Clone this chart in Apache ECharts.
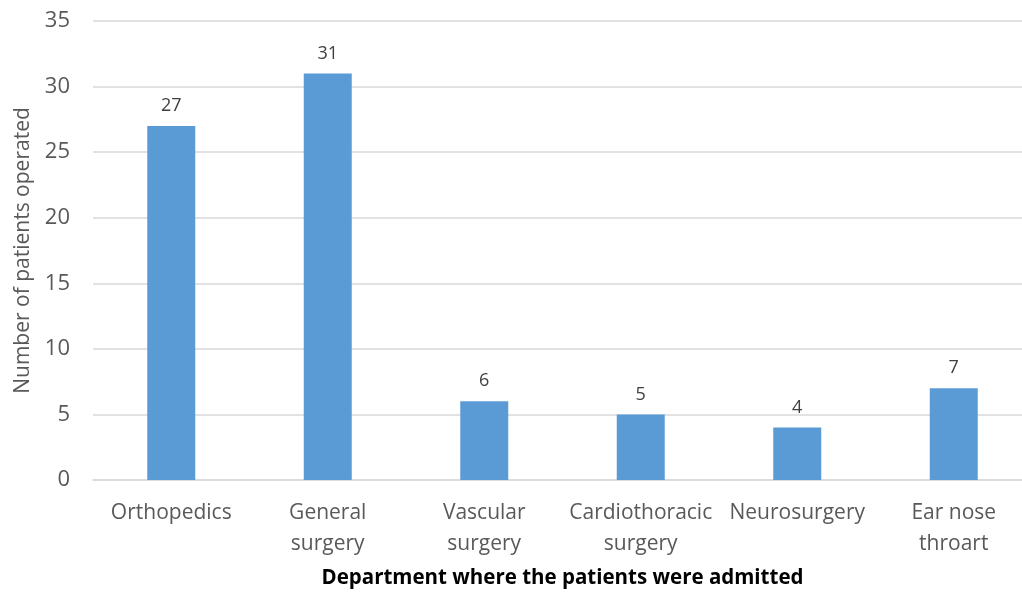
<!DOCTYPE html>
<html>
<head>
<meta charset="utf-8">
<script src="https://cdn.jsdelivr.net/npm/echarts@6/dist/echarts.min.js"></script>
<style>
  html, body { margin: 0; padding: 0; background: #fff; }
  #chart { width: 1022px; height: 592px; }
</style>
</head>
<body>
<div id="chart"></div>
<script>
// Patients operated, by admitting department
const departments = ['Orthopedics', 'General\nsurgery', 'Vascular\nsurgery', 'Cardiothoracic\nsurgery', 'Neurosurgery', 'Ear nose\nthroart'];
const patients = [27, 31, 6, 5, 4, 7];
const yTicks = { min: 0, max: 35, interval: 5 };

const font = 'Open Sans';
const chart = echarts.init(document.getElementById('chart'));
chart.setOption({
  animation: false,
  grid: { left: 93, right: -10, top: 21, bottom: 112, containLabel: false, outerBoundsMode: 'none' },
  xAxis: {
    type: 'category',
    data: departments,
    name: 'Department where the patients were admitted',
    nameLocation: 'middle',
    nameGap: 88,
    nameTextStyle: { fontFamily: font, fontSize: 20.5, fontWeight: 'bold', color: '#000' },
    axisLine: { show: true, lineStyle: { color: '#d9d9d9', width: 1.5 } },
    axisTick: { show: false },
    axisLabel: { fontFamily: font, fontSize: 21, color: '#595959', lineHeight: 31, margin: 18, interval: 0 }
  },
  yAxis: {
    type: 'value',
    min: yTicks.min, max: yTicks.max, interval: yTicks.interval,
    name: 'Number of patients operated',
    nameLocation: 'middle',
    nameGap: 58,
    nameTextStyle: { fontFamily: font, fontSize: 21, color: '#595959' },
    axisLine: { show: false },
    axisTick: { show: false },
    axisLabel: { fontFamily: font, fontSize: 22, color: '#595959', margin: 23 },
    splitLine: { lineStyle: { color: '#d9d9d9', width: 1.5 } }
  },
  series: [{
    type: 'bar',
    data: patients,
    barWidth: 48,
    itemStyle: { color: '#5b9bd5' },
    label: { show: true, position: 'top', distance: 11, fontFamily: font, fontSize: 18, color: '#404040' }
  }]
});
</script>
</body>
</html>
